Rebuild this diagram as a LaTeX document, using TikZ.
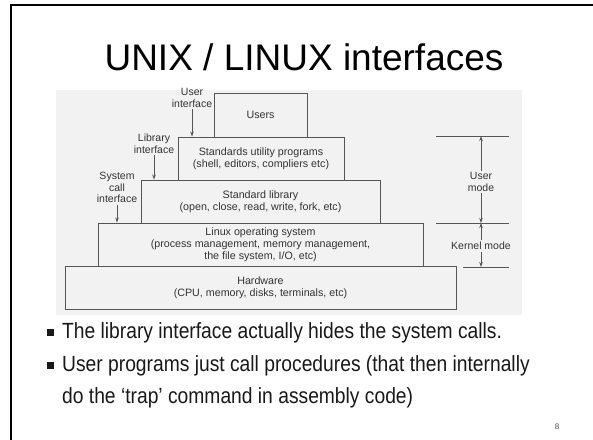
\documentclass[tikz,border=0pt]{standalone}
\usepackage{fontspec}
\setmainfont{Liberation Sans}
\usetikzlibrary{arrows.meta}
\definecolor{diag}{HTML}{555555}
\definecolor{dtext}{HTML}{333333}
\definecolor{scan}{HTML}{F2F2F2}
\begin{document}
\begin{tikzpicture}[x=1pt,y=-1pt,
  layer/.style={draw=diag, line width=0.9pt, align=center, font=\fontsize{10.7}{12}\selectfont, text=dtext, inner sep=0pt},
  lbl/.style={align=center, font=\fontsize{10.5}{11.6}\selectfont, text=dtext, inner sep=1.5pt},
  arr/.style={draw=diag, line width=0.8pt, -{Stealth[length=5pt,width=3.5pt]}},
  rulel/.style={draw=diag, line width=0.8pt},
  bul/.style={anchor=base west, inner sep=0pt, font=\fontsize{22}{26}\selectfont, text=black!90},
  bsq/.style={fill=black!90, minimum size=7pt, inner sep=0pt}]
\useasboundingbox (0,0) rectangle (593,439);
\fill[white] (0,0) rectangle (593,439);
\draw[line width=2.2pt] (11,440) -- (11,5) -- (594,5);
\fill[scan] (56,90) rectangle (522,315);
% title
\node[anchor=base, font=\fontsize{37}{40}\selectfont, inner sep=0pt] (title) at (304,70) {UNIX / LINUX interfaces};
% layers
\node[layer, minimum width=93pt, minimum height=44pt] (users) at (260.5,115) {Users};
\node[layer, minimum width=166pt, minimum height=43pt] (util) at (261,158.5) {Standards utility programs\\(shell, editors, compliers etc)};
\node[layer, minimum width=239pt, minimum height=43pt] (lib) at (260.5,201.5) {Standard library\\(open, close, read, write, fork, etc)};
\node[layer, minimum width=325pt, minimum height=43pt] (os) at (260.5,244.5) {Linux operating system\\(process management, memory management,\\the file system, I/O, etc)};
\node[layer, minimum width=391pt, minimum height=43pt] (hw) at (260.5,287.5) {Hardware\\(CPU, memory, disks, terminals, etc)};
% interface labels
\node[lbl] (uif) at (192,98) {User\\interface};
\node[lbl] (lif) at (154,143.5) {Library\\interface};
\node[lbl] (sif) at (117,187.5) {System\\call\\interface};
\draw[arr] (uif.south) -- (uif.south |- util.north);
\draw[arr] (lif.south) -- (lif.south |- lib.north);
\draw[arr] (sif.south) -- (sif.south |- os.north);
% mode rules
\coordinate (ta) at (436,136); \coordinate (tb) at (509,136);
\coordinate (ma) at (436,223); \coordinate (mb) at (509,223);
\coordinate (ba) at (463,267); \coordinate (bb) at (509,267);
\draw[rulel] (ta) -- (tb);
\draw[rulel] (ma) -- (mb);
\draw[rulel] (ba) -- (bb);
\node[lbl] (umode) at (481,182) {User\\mode};
\node[lbl] (kmode) at (481,246) {Kernel mode};
\draw[arr] (umode.north) -- (umode.north |- ta);
\draw[arr] (umode.south) -- (umode.south |- ma);
\draw[arr] (kmode.north) -- (kmode.north |- ma);
\draw[arr] (kmode.south) -- (kmode.south |- ba);
% bullets
\node[bsq] (sq1) at (50.5,332) {};
\node[bsq] (sq2) at (50.5,365) {};
\node[bul] (bt1) at (62,338) {\scalebox{0.875}[1]{The library interface actually hides the system calls.}};
\node[bul] (bt2) at (62,371) {\scalebox{0.875}[1]{User programs just call procedures (that then internally}};
\node[bul] (bt3) at (62,403) {\scalebox{0.875}[1]{do the ‘trap’ command in assembly code)}};
\node[font=\fontsize{8}{9}\selectfont, text=black!70, inner sep=0pt] (pg) at (557,427) {8};
\end{tikzpicture}
\end{document}
